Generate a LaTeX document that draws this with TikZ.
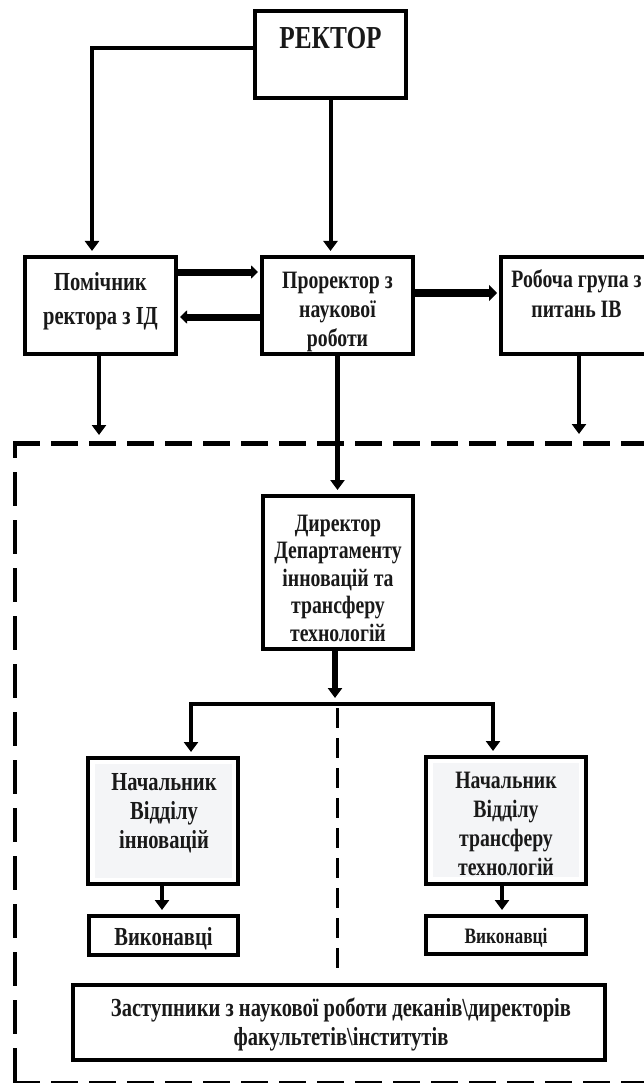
\documentclass[tikz,border=0pt]{standalone}
\usepackage{fontspec}
\setmainfont[FakeStretch=0.79]{Liberation Serif}
\usetikzlibrary{arrows.meta}
\definecolor{innergray}{HTML}{F4F5F7}
\newcommand\myfs[2]{\fontsize{#1}{#2}\selectfont\bfseries}
\begin{document}
\begin{tikzpicture}[x=1pt,y=-1pt,
  box/.style={draw=black, line width=4pt, inner sep=0pt, outer sep=0pt},
  txt/.style={inner sep=0pt, outer sep=0pt, align=center, text=black!90},
  bg/.style={fill=innergray, draw=none, inner sep=0pt, outer sep=0pt},
  conn/.style={line width=4pt, line join=miter},
  arr/.style={conn, -{Triangle[width=14pt,length=10pt]}, shorten >=6pt},
  tarr/.style={line width=7pt, -{Triangle[width=13pt,length=7pt]}, shorten >=4pt},
  tarrb/.style={line width=8pt, -{Triangle[width=16pt,length=8pt]}, shorten >=4pt},
  dashh/.style={line width=5pt, dash pattern=on 27pt off 11pt},
  dashv/.style={line width=3.5pt, dash pattern=on 34pt off 14pt, dash phase=17pt},
  dashm/.style={line width=3pt, dash pattern=on 20pt off 10pt}]
\useasboundingbox (0,0) rectangle (644,1083);
\clip (0,0) rectangle (644,1083);
\fill[white] (0,0) rectangle (644,1083);

% boxes
\node[box, minimum width=151pt, minimum height=87pt] (rector) at (330.5,54.5) {};
\node[box, minimum width=151pt, minimum height=97pt] (pom) at (100.5,305.5) {};
\node[box, minimum width=151pt, minimum height=97pt] (pror) at (337.5,305.5) {};
\node[box, minimum width=151pt, minimum height=97pt] (rob) at (576.5,305.5) {};
\node[box, minimum width=150pt, minimum height=153pt] (dir) at (338,572.5) {};
\node[bg, minimum width=137pt, minimum height=114pt] (nach1bg) at (163.5,821) {};
\node[bg, minimum width=146pt, minimum height=114pt] (nach2bg) at (506,820) {};
\node[box, line width=4.5pt, minimum width=150pt, minimum height=126pt] (nach1) at (163,821) {};
\node[box, line width=4.5pt, minimum width=160pt, minimum height=127pt] (nach2) at (506,820.5) {};
\node[box, minimum width=149pt, minimum height=39pt] (vyk1) at (163.5,935.5) {};
\node[box, minimum width=160pt, minimum height=38pt] (vyk2) at (506,935) {};
\node[box, minimum width=532pt, minimum height=75pt] (zast) at (339,1022.5) {};

% texts
\node[txt, anchor=north, font=\myfs{32}{38}] (rectort) at (330.5,27) {РЕКТОР};
\node[txt, anchor=north, font=\myfs{26}{34}] (pomt) at (100.5,272) {Помічник\\ректора з ІД};
\node[txt, anchor=north, font=\myfs{25}{29}] (prort) at (337.5,272) {Проректор з\\наукової\\роботи};
\node[txt, anchor=north, font=\myfs{25}{30}] (robt) at (576.5,270) {Робоча група з\\питань ІВ};
\node[txt, anchor=north, font=\myfs{25}{27.5}] (dirt) at (338,515) {Директор\\Департаменту\\інновацій та\\трансферу\\технологій};
\node[txt, anchor=north, font=\myfs{26}{29}] (nach1t) at (164,773) {Начальник\\Відділу\\інновацій};
\node[txt, anchor=north, font=\myfs{25}{29}] (nach2t) at (506,772) {Начальник\\Відділу\\трансферу\\технологій};
\node[txt, anchor=base, font=\myfs{26}{30}] (vyk1t) at (163.5,945) {Виконавці};
\node[txt, anchor=base, font=\myfs{22}{26}] (vyk2t) at (506,943) {Виконавці};
\node[txt, anchor=north, font=\myfs{26}{29}] (zastt) at (341,998) {Заступники з наукової роботи деканів\textbackslash директорів\\факультетів\textbackslash інститутів};

% dashed frame
\draw[dashh] (13,443) -- (660,443);
\draw[dashv] (15,441) -- (15,1083);
\draw[dashh, line width=4pt] (13,1082.5) -- (660,1082.5);

% connectors
\coordinate (c1) at (92,48);
\draw[arr] (rector.west |- c1) -- (c1) -- (c1 |- pom.north);
\draw[arr] (rector.south) -- (rector.south |- pror.north);

\coordinate (a1) at (0,272);
\coordinate (a2) at (0,317);
\coordinate (a3) at (0,293);
\draw[tarr] (pom.east |- a1) -- (pror.west |- a1);
\draw[tarr] (pror.west |- a2) -- (pom.east |- a2);
\draw[tarrb] (pror.east |- a3) -- (rob.west |- a3);

\coordinate (f1) at (99,441);
\coordinate (f2) at (579,440);
\draw[arr] (pom.south -| f1) -- (f1);
\draw[arr] (rob.south -| f2) -- (f2);

\draw[arr, line width=5.5pt] (pror.south) -- (pror.south |- dir.north);

\coordinate (j) at (335,704);
\draw[arr, line width=6pt] (dir.south -| j) -- (j);

\coordinate (jl) at (191,704);
\coordinate (jr) at (493,704);
\draw[arr] (jr) -- (jl) -- (jl |- nach1.north);
\draw[arr] (jl) -- (jr) -- (jr |- nach2.north);

\coordinate (dv1) at (337,708);
\coordinate (dv2) at (337,972);
\draw[dashm] (dv1) -- (dv2);

\coordinate (vx1) at (162,0);
\coordinate (vx2) at (502,0);
\draw[arr] (nach1.south -| vx1) -- (vyk1.north -| vx1);
\draw[arr] (nach2.south -| vx2) -- (vyk2.north -| vx2);
\end{tikzpicture}
\end{document}
